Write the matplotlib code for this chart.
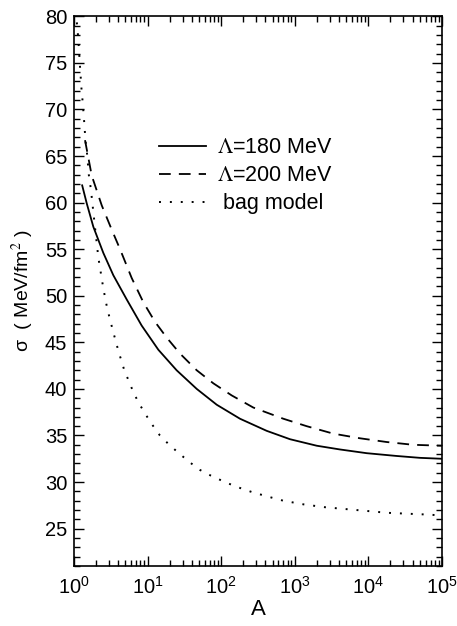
import matplotlib
matplotlib.use("Agg")
import matplotlib.pyplot as plt
from matplotlib.ticker import MultipleLocator, LogLocator, NullFormatter

plt.rcParams['font.family'] = ['Liberation Sans', 'DejaVu Sans']
plt.rcParams['mathtext.fontset'] = 'stix'

# Lambda = 180 MeV
a_180 = [1.29, 1.49, 1.83, 2.5, 3.42, 5.2, 8.3, 14.0, 24.8, 46.5, 87, 180,
         415, 861, 1990, 4110, 9490, 24300, 50200, 100000]
s_180 = [61.85, 59.9, 57.4, 54.6, 52.2, 49.6, 46.8, 44.2, 42.0, 40.0, 38.3, 36.8,
         35.5, 34.6, 33.9, 33.5, 33.1, 32.8, 32.6, 32.5]

# Lambda = 200 MeV
a_200 = [1.41, 1.74, 2.38, 3.25, 4.22, 6.08, 8.75, 12.6, 18.2, 27.5, 46.5,
         78.2, 139, 273, 698, 1450, 3330, 7690, 17700, 40700, 100000]
s_200 = [66.7, 62.9, 59.7, 57.1, 55.0, 51.9, 49.3, 47.2, 45.5, 43.8, 42.0,
         40.6, 39.3, 38.0, 36.8, 36.0, 35.2, 34.7, 34.3, 34.0, 33.9]

# bag model
a_bag = [1.04, 1.11, 1.16, 1.21, 1.26, 1.31, 1.37, 1.43, 1.52, 1.58, 1.69,
         1.93, 2.14, 2.5, 2.83, 3.36, 4.0, 4.78, 5.64, 6.53, 7.7, 9.5, 11.7,
         14.7, 19.7, 27.5, 37.7, 51.5, 72, 99, 139, 190, 268, 366, 501, 698,
         1330, 2570, 4920, 9490, 18100, 34800, 68700, 100000]
s_bag = [80.5, 78.9, 76.7, 74.4, 72.3, 70.8, 68.8, 66.7, 64.9, 63.1, 61.5,
         57.3, 54.1, 50.8, 48.6, 46.3, 44.1, 42.1, 40.7, 39.5, 38.4, 37.2, 36.1,
         35.0, 34.0, 33.0, 32.1, 31.3, 30.7, 30.2, 29.7, 29.3, 28.9, 28.6, 28.3, 28.0,
         27.6, 27.3, 27.1, 26.9, 26.7, 26.6, 26.5, 26.4]

fig = plt.figure(figsize=(4.57, 6.26), dpi=100)
ax = fig.add_axes([0.162, 0.096, 0.805, 0.878])

ax.plot(a_180, s_180, color='black', lw=1.3, ls='-', label=r'$\Lambda$=180 MeV')
ax.plot(a_200, s_200, color='black', lw=1.3, ls=(0, (6.5, 4.5)), label=r'$\Lambda$=200 MeV')
ax.plot(a_bag, s_bag, color='black', lw=1.4, ls=(0, (1, 4.6)), label=' bag model')

ax.set_xscale('log')
ax.set_xlim(1, 1e5)
ax.set_ylim(21, 80)
ax.yaxis.set_major_locator(MultipleLocator(5))
ax.yaxis.set_minor_locator(MultipleLocator(1))
ax.xaxis.set_major_locator(LogLocator(base=10, numticks=10))
ax.xaxis.set_minor_locator(LogLocator(base=10, subs=range(2, 10), numticks=20))
ax.xaxis.set_minor_formatter(NullFormatter())

ax.tick_params(which='both', direction='in', top=True, right=True, width=1)
ax.tick_params(which='major', length=7, labelsize=14.5, pad=5)
ax.tick_params(axis='x', which='major', pad=7)
ax.tick_params(which='minor', length=4)
for sp in ax.spines.values():
    sp.set_linewidth(1.2)

ax.set_xlabel('A', fontsize=16, labelpad=1)
ax.set_ylabel('σ  ( MeV/fm$^2$ )', fontsize=14, labelpad=6)

ax.legend(loc='upper left', bbox_to_anchor=(0.177, 0.815), frameon=False,
          fontsize=15.5, handlelength=2.2, handletextpad=0.5, labelspacing=0.32)

fig.savefig('out.png', dpi=100)
